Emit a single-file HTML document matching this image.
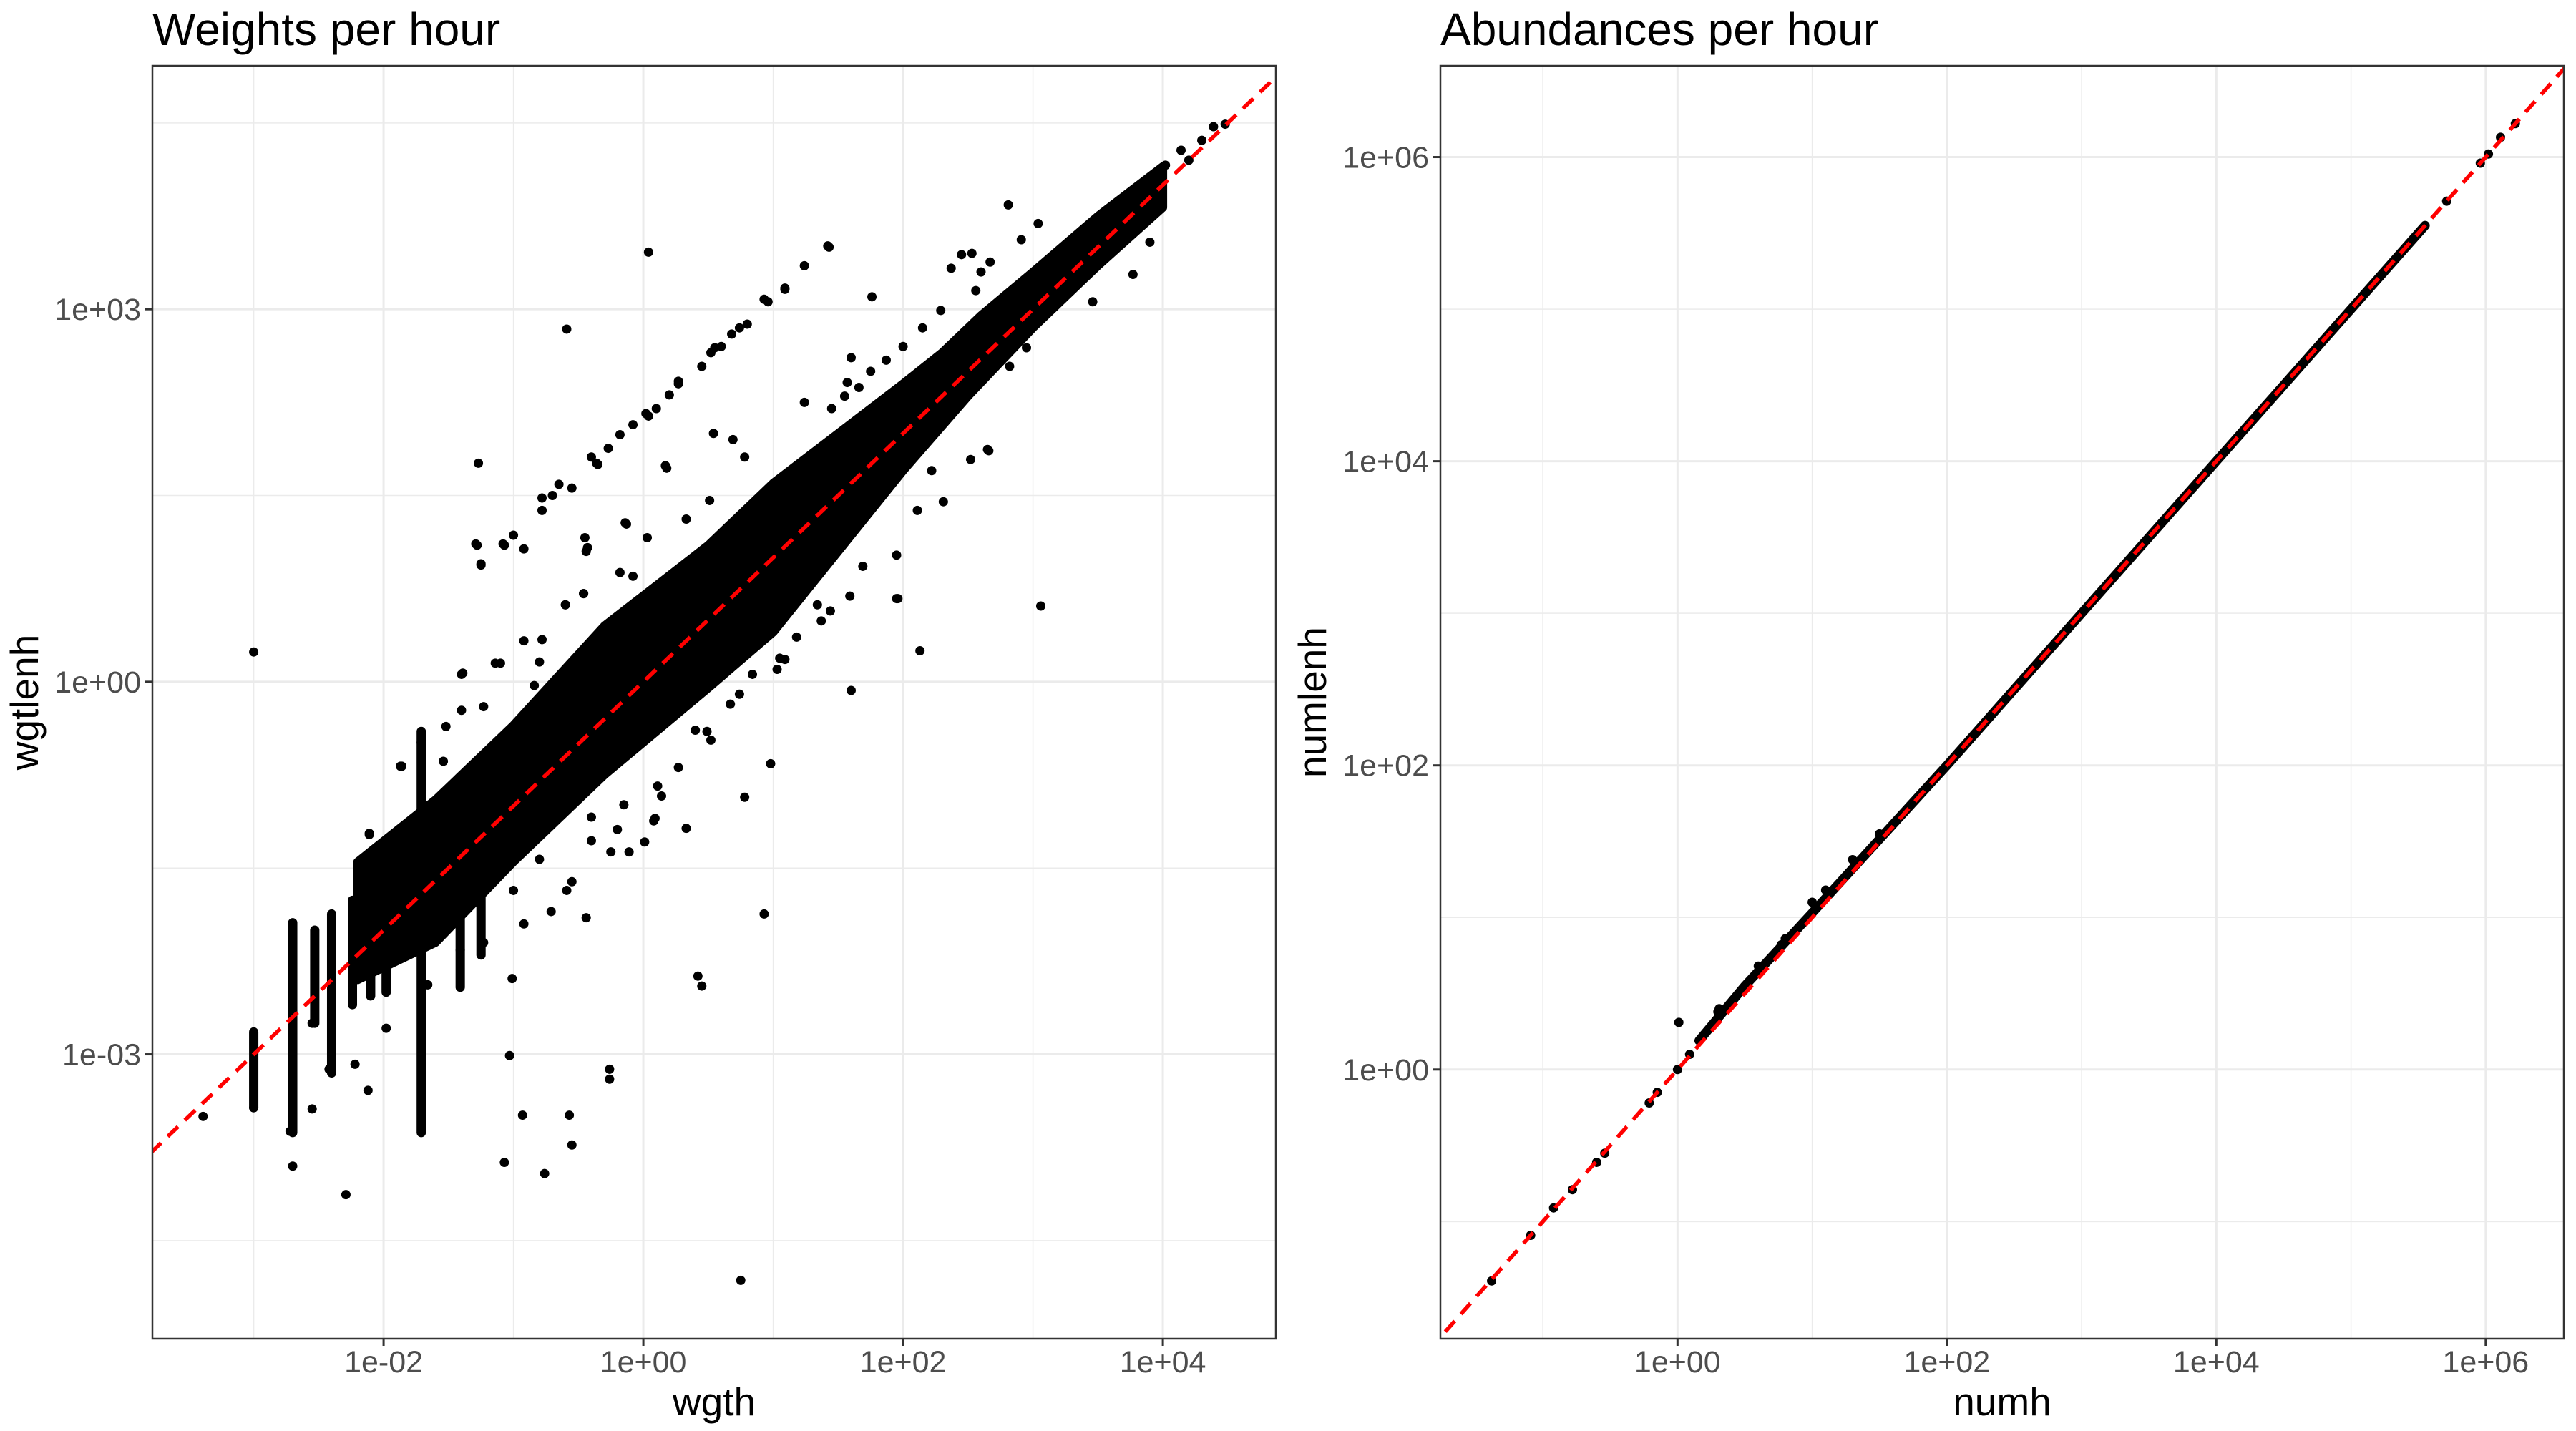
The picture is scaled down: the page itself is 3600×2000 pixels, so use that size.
<!DOCTYPE html>
<html><head><meta charset="utf-8">
<style>
html,body{margin:0;padding:0;background:#fff;}
svg{display:block;font-family:"Liberation Sans",Arial,sans-serif;}
</style></head>
<body>
<svg id="fig" width="3600" height="2000" viewBox="0 0 3600 2000" xmlns="http://www.w3.org/2000/svg">
<rect width="3600" height="2000" fill="#fff"/>
</svg>
<script>
// ---------- data (log10 values) ----------
const wgtCoreUpper = [[-2.2,-1.45],[-1.6,-0.95],[-1,-0.35],[-0.3,0.45],[0.5,1.1],[1,1.6],[1.5,2.0],[2.0,2.4],[2.3,2.65],[2.6,2.95],[3.0,3.3],[3.5,3.75],[4.0,4.15]];
const wgtCoreLower = [[-2.2,-2.4],[-1.6,-2.1],[-1,-1.45],[-0.3,-0.75],[0.5,-0.05],[1,0.4],[1.5,1.05],[2.0,1.7],[2.5,2.3],[3.0,2.85],[3.5,3.35],[4.0,3.82]];
const wgtColumns = [[-3.0,-3.43,-2.82],[-2.70,-3.63,-1.94],[-2.53,-2.75,-2.0],[-2.40,-3.15,-1.87],[-2.24,-2.6,-1.76],[-2.10,-2.53,-1.57],[-1.98,-2.5,-1.5],[-1.71,-3.63,-0.40],[-1.41,-2.46,-0.99],[-1.25,-2.2,-0.8]];
const wgtPoints = [
[-3.0,0.24],[-3.39,-3.5],[-2.29,-4.13],[0.75,-4.82],[0.04,3.46],[-0.59,2.84],[1.43,3.5],[2.81,3.84],[1.76,3.10],[3.06,0.61],
[2.13,0.25],[1.60,-0.07],[0.98,-0.66],[0.78,-0.93],[0.93,-1.87],[0.42,-2.37],[0.45,-2.45],[-1.03,-3.01],[-0.26,-3.12],[-0.26,-3.2],[-0.93,-3.49],
[-0.57,-3.49],[-0.55,-3.73],[-1.07,-3.87],[-0.76,-3.96],[-2.12,-3.29],[-2.70,-3.90],[-2.55,-3.44],[-2.72,-3.62],[-3.0,-3.43],
[-1.27,1.76],[-1.25,0.95],[-1.28,1.10],[-1.07,1.10],[-0.92,1.07],[-0.44,1.05],[-0.13,1.27],[-0.45,1.16],[1.95,1.02],[1.95,0.67],
[2.31,1.45],[2.65,1.87],[2.22,1.70],[1.24,2.25],[0.54,2.0],[0.17,1.74],[-1.39,0.07],[-1.86,-0.68],[-2.11,-1.22],[-1.14,0.15],
[-0.60,0.62],[-0.08,0.85],[0.33,-1.18],[0.09,-1.10],[-0.44,-1.90],[-1.01,-2.39],[-1.41,-2.16],[-1.23,-2.10],[-1.66,-2.44],[-1.98,-2.79],
[-2.42,-3.12],[-2.22,-3.08],[-2.55,-2.75],[-0.25,-1.37],[-0.15,-0.99],[-0.80,-1.43],[-0.59,-1.68],[-0.40,-1.28],[0.11,-0.84],[0.49,-0.40],
[0.74,-0.10],[1.05,0.19],[1.37,0.49],[1.69,0.93],[-0.52,-0.76],[-0.90,-1.06],[-0.78,0.34],[-0.46,0.71],[-0.84,-0.03],[-1.03,-0.40],
[-1.41,-0.84],[-1.54,-1.13],[4.48,4.49],[4.39,4.47],[4.30,4.36],[4.14,4.28],[4.02,4.16],[4.2,4.2],
[2.82,2.54],[2.95,2.69],[2.63,2.47],[3.46,3.06],[3.77,3.28],[3.90,3.54],[1.2,0.9],[1.5,1.3],[0.3,0.2],
[-0.78,1.48],[-0.65,1.59],[-0.40,1.81],[-0.27,1.88],[-0.08,2.07],[0.04,2.14],[0.20,2.31],[0.27,2.40],[0.45,2.54],[0.55,2.69],
[0.68,2.80],[0.80,2.88],[0.96,3.06],[1.09,3.17],[1.24,3.35],[1.42,3.51],[-0.7,1.5],[-0.35,1.75],[0.1,2.2],[0.6,2.7],
[3.04,3.69],[2.91,3.56],[2.45,3.44],[2.53,3.45],[2.37,3.33],[2.60,3.30],[2.67,3.38],
[2.29,2.99],[1.87,2.59],[1.66,2.37],[2.56,3.15],[2.0,2.7],[2.15,2.85],[1.75,2.5],[1.55,2.3],[1.45,2.2],
[0.18,1.72],[-0.14,1.28],[-0.43,1.08],[-1.29,1.11],[-1.08,1.11],[-1.00,1.18],[-1.25,0.94],[-1.40,0.06],[-1.10,0.15],
[-1.87,-0.68],[-2.11,-1.23],[1.96,0.67],[2.11,1.38],[2.52,1.79],[2.66,1.86],[0.01,-1.29],
[1.18,0.36],[1.44,0.57],[1.34,0.62],[1.59,0.69],[1.09,0.18],[1.03,0.10],[0.84,0.06],[0.67,-0.18],[0.52,-0.47],[0.40,-0.39],
[0.27,-0.69],[0.14,-0.92],[0.08,-1.12],[-0.11,-1.37],[-0.20,-1.19],[-0.40,-1.09],[-0.55,-1.61],[-0.71,-1.85],[-0.92,-1.95],[-1.00,-1.68],
[1.60,2.61],[1.57,2.41],[0.69,1.95],[0.78,1.81],[0.51,1.46],[0.33,1.31],[0.03,1.16],[-0.18,0.88],[-0.46,0.71],[-0.60,0.62],
[-0.92,0.33],[-0.80,0.16],[-1.23,-0.20],[-1.40,-0.23],[-1.52,-0.36],[-1.71,-0.49],[-1.54,-0.64],
[1.09,3.16],[0.93,3.08],[0.74,2.85],[0.52,2.65],[0.27,2.42],[0.02,2.16],[-0.18,1.99],[-0.36,1.76],[-0.55,1.56],[-0.78,1.38]
];
const numRun = [[0.16,0.19],[0.5,0.55],[1.0,1.03],[2.0,2.0],[3.0,3.0],[4.0,4.0],[5.0,5.0],[5.55,5.55]];
const numPoints = [[-1.38,-1.39],[-1.09,-1.09],[-0.92,-0.91],[-0.78,-0.79],[-0.60,-0.61],[-0.54,-0.55],[-0.21,-0.22],[-0.15,-0.15],
[0,0],[0.01,0.31],[0.09,0.10],[0.30,0.38],[0.31,0.40],[0.60,0.68],[0.77,0.82],[0.8,0.86],[1.0,1.1],[1.1,1.18],[1.3,1.38],[1.5,1.55],[5.71,5.71],[5.96,5.96],[6.02,6.02],[6.11,6.13],[6.22,6.22]];
const leftXTicks = [-2,0,2,4], leftXLabels = ["1e-02","1e+00","1e+02","1e+04"];
const leftYTicks = [3,0,-3], leftYLabels = ["1e+03","1e+00","1e-03"];
const rightXTicks = [0,2,4,6], rightXLabels = ["1e+00","1e+02","1e+04","1e+06"];
const rightYTicks = [6,4,2,0], rightYLabels = ["1e+06","1e+04","1e+02","1e+00"];
const leftXMinor=[-3,-1,1,3], leftYMinor=[4.5,1.5,-1.5,-4.5];
const rightXMinor=[-1,1,3,5], rightYMinor=[5,3,1,-1];

const NS="http://www.w3.org/2000/svg";
const svg=document.getElementById('fig');
function mk(tag,attrs,parent){const e=document.createElementNS(NS,tag);for(const k in attrs)e.setAttribute(k,attrs[k]);(parent||svg).appendChild(e);return e;}

function panel(cfg){
  const g=mk('g',{});
  
  
  const L=cfg.L,R=cfg.R,T=92,B=1871;
  const sx=v=>L+(v-cfg.xmin)/(cfg.xmax-cfg.xmin)*(R-L);
  const sy=v=>B-(v-cfg.ymin)/(cfg.ymax-cfg.ymin)*(B-T);
  const cid='clip'+cfg.name;
  const cp=mk('clipPath',{id:cid},g); mk('rect',{x:L,y:T,width:R-L,height:B-T},cp);
  cfg.xMinor.forEach(v=>{const l=mk('line',{x1:sx(v),x2:sx(v),y1:T,y2:B,stroke:'#ebebeb','stroke-width':1.5},g);
    });
  cfg.yMinor.forEach(v=>{const l=mk('line',{x1:L,x2:R,y1:sy(v),y2:sy(v),stroke:'#ebebeb','stroke-width':1.5},g);
    });
  cfg.xTicks.forEach((v,i)=>{const l=mk('line',{x1:sx(v),x2:sx(v),y1:T,y2:B,stroke:'#ebebeb','stroke-width':3},g);
    
    mk('line',{x1:sx(v),x2:sx(v),y1:B,y2:B+10,stroke:'#333','stroke-width':3},g);
    const t=mk('text',{x:sx(v),y:1918,'text-anchor':'middle','font-size':43,fill:'#4d4d4d'},g);t.textContent=cfg.xLabels[i];
    });
  cfg.yTicks.forEach((v,i)=>{const l=mk('line',{x1:L,x2:R,y1:sy(v),y2:sy(v),stroke:'#ebebeb','stroke-width':3},g);
    
    mk('line',{x1:L-10,x2:L,y1:sy(v),y2:sy(v),stroke:'#333','stroke-width':3},g);
    const t=mk('text',{x:L-16,y:sy(v)+15,'text-anchor':'end','font-size':43,fill:'#4d4d4d'},g);t.textContent=cfg.yLabels[i];
    });
  const dg=mk('g',{'clip-path':'url(#'+cid+')'},g);
  
  
  if(cfg.coreU){
    const pts=cfg.coreU.concat(cfg.coreL.slice().reverse()).map(p=>sx(p[0])+','+sy(p[1])).join(' ');
    const pg=mk('polygon',{points:pts,fill:'#000',stroke:'#000','stroke-width':12,'stroke-linejoin':'round'},dg);
    
  }
  if(cfg.cols){cfg.cols.forEach(c=>{const l=mk('line',{x1:sx(c[0]),x2:sx(c[0]),y1:sy(c[1]),y2:sy(c[2]),stroke:'#000','stroke-width':13,'stroke-linecap':'round'},dg);
    });}
  if(cfg.run){const pl=mk('polyline',{points:cfg.run.map(p=>sx(p[0])+','+sy(p[1])).join(' '),fill:'none',stroke:'#000','stroke-width':13,'stroke-linecap':'round'},dg);
    }
  cfg.pts.forEach(p=>{const c=mk('circle',{cx:sx(p[0]),cy:sy(p[1]),r:6.5,fill:'#000'},dg);
    });
  const lo=Math.min(cfg.xmin,cfg.ymin)-1,hi=Math.max(cfg.xmax,cfg.ymax)+1;
  const ref=mk('line',{x1:sx(lo),y1:sy(lo),x2:sx(hi),y2:sy(hi),stroke:'#ff0000','stroke-width':5.5,'stroke-dasharray':'20 13'},dg);
  
  const br=mk('rect',{x:L,y:T,width:R-L,height:B-T,fill:'none',stroke:'#333','stroke-width':2.5},g);
  
  const ti=mk('text',{x:L,y:63,'font-size':64,fill:'#000'},g);ti.textContent=cfg.title;
  
  const xt=mk('text',{x:(L+R)/2,y:1978,'text-anchor':'middle','font-size':55,fill:'#000'},g);xt.textContent=cfg.xTitle;
  
  const yx=cfg.L-160,yy=(T+B)/2;
  const yt=mk('text',{x:yx,y:yy,'text-anchor':'middle','font-size':55,fill:'#000',transform:'rotate(-90 '+yx+' '+yy+')'},g);yt.textContent=cfg.yTitle;
  
}
panel({name:'weights-panel',L:213,R:1783,xmin:-3.78,xmax:4.87,ymin:-5.29,ymax:4.96,
  xTicks:leftXTicks,xLabels:leftXLabels,yTicks:leftYTicks,yLabels:leftYLabels,xMinor:leftXMinor,yMinor:leftYMinor,
  coreU:wgtCoreUpper,coreL:wgtCoreLower,cols:wgtColumns,pts:wgtPoints,title:'Weights per hour',xTitle:'wgth',yTitle:'wgtlenh'});
panel({name:'abundances-panel',L:2013,R:3583,xmin:-1.76,xmax:6.58,ymin:-1.77,ymax:6.60,
  xTicks:rightXTicks,xLabels:rightXLabels,yTicks:rightYTicks,yLabels:rightYLabels,xMinor:rightXMinor,yMinor:rightYMinor,
  run:numRun,pts:numPoints,title:'Abundances per hour',xTitle:'numh',yTitle:'numlenh'});
</script>
</body></html>
